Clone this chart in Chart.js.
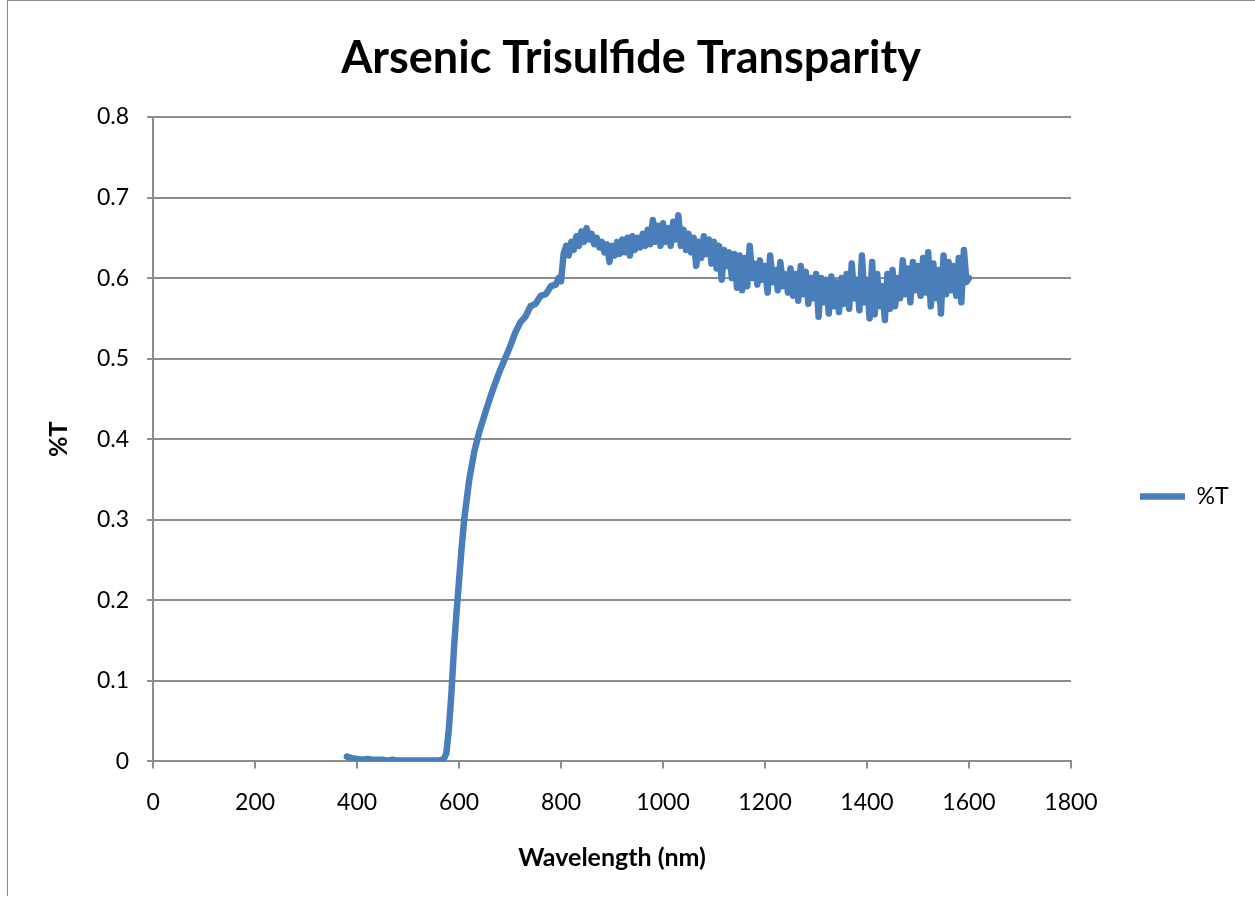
<!DOCTYPE html>
<html>
<head>
<meta charset="utf-8">
<title>Arsenic Trisulfide Transparity</title>
<script src="https://cdn.jsdelivr.net/npm/chart.js@4/dist/chart.umd.min.js"></script>
<style>
  html, body { margin: 0; padding: 0; background: #fff; }
  #wrap { position: relative; width: 1255px; height: 899px; }
  #frame {
    position: absolute; left: 7px; top: 0; width: 1260px; height: 895px;
    border-left: 1px solid #8a8a8a; border-top: 1px solid #8a8a8a;
    pointer-events: none;
  }
</style>
</head>
<body>
<div id="wrap">
  <canvas id="chart" width="1255" height="899"></canvas>
  <div id="frame"></div>
</div>
<script>
// 讀圖估計的數據（波長 nm / 穿透率）
const wavelengthNm = [
  380, 390, 400, 410, 420, 430, 440, 450, 460, 470,
  480, 490, 500, 510, 520, 530, 540, 550, 560, 570,
  575, 580, 585, 590, 595, 600, 605, 610, 620, 630,
  640, 650, 660, 670, 680, 690, 700, 710, 720, 730,
  740, 750, 760, 770, 780, 790, 795,
  800, 805, 810, 815, 820, 825, 830, 835, 840, 845,
  850, 855, 860, 865, 870, 875, 880, 885, 890, 895,
  900, 905, 910, 915, 920, 925, 930, 935, 940, 945,
  950, 955, 960, 965, 970, 975, 980, 985, 990, 995,
  1000, 1005, 1010, 1015, 1020, 1025, 1030, 1035, 1040, 1045,
  1050, 1055, 1060, 1065, 1070, 1075, 1080, 1085, 1090, 1095,
  1100, 1105, 1110, 1115, 1120, 1125, 1130, 1135, 1140, 1145,
  1150, 1155, 1160, 1165, 1170, 1175, 1180, 1185, 1190, 1195,
  1200, 1205, 1210, 1215, 1220, 1225, 1230, 1235, 1240, 1245,
  1250, 1255, 1260, 1265, 1270, 1275, 1280, 1285, 1290, 1295,
  1300, 1305, 1310, 1315, 1320, 1325, 1330, 1335, 1340, 1345,
  1350, 1355, 1360, 1365, 1370, 1375, 1380, 1385, 1390, 1395,
  1400, 1405, 1410, 1415, 1420, 1425, 1430, 1435, 1440, 1445,
  1450, 1455, 1460, 1465, 1470, 1475, 1480, 1485, 1490, 1495,
  1500, 1505, 1510, 1515, 1520, 1525, 1530, 1535, 1540, 1545,
  1550, 1555, 1560, 1565, 1570, 1575, 1580, 1585, 1590, 1595,
  1600
];

const transmittance = [
  0.006, 0.004, 0.003, 0.002, 0.003, 0.002, 0.002, 0.002, 0.001, 0.002,
  0.001, 0.001, 0.001, 0.001, 0.001, 0.001, 0.001, 0.001, 0.001, 0.003,
  0.010, 0.040, 0.085, 0.140, 0.185, 0.225, 0.265, 0.300, 0.350, 0.385,
  0.410, 0.430, 0.450, 0.468, 0.485, 0.500, 0.515, 0.532, 0.545, 0.552,
  0.565, 0.568, 0.578, 0.580, 0.590, 0.592, 0.600,
  0.596, 0.630, 0.640, 0.628, 0.645, 0.635, 0.652, 0.640, 0.658, 0.645,
  0.662, 0.648, 0.655, 0.642, 0.650, 0.638, 0.645, 0.632, 0.642, 0.620,
  0.640, 0.628, 0.645, 0.630, 0.648, 0.632, 0.650, 0.628, 0.652, 0.635,
  0.650, 0.638, 0.655, 0.640, 0.660, 0.642, 0.672, 0.645, 0.665, 0.640,
  0.668, 0.645, 0.662, 0.640, 0.670, 0.648, 0.678, 0.640, 0.660, 0.635,
  0.655, 0.632, 0.650, 0.615, 0.645, 0.625, 0.652, 0.630, 0.648, 0.618,
  0.645, 0.612, 0.640, 0.598, 0.635, 0.615, 0.632, 0.600, 0.630, 0.588,
  0.628, 0.585, 0.625, 0.590, 0.640, 0.600, 0.618, 0.592, 0.622, 0.598,
  0.615, 0.582, 0.628, 0.595, 0.610, 0.585, 0.620, 0.590, 0.605, 0.582,
  0.612, 0.578, 0.605, 0.572, 0.615, 0.580, 0.608, 0.568, 0.600, 0.575,
  0.605, 0.552, 0.600, 0.570, 0.598, 0.556, 0.602, 0.565, 0.595, 0.558,
  0.600, 0.568, 0.605, 0.562, 0.618, 0.575, 0.598, 0.560, 0.628, 0.570,
  0.598, 0.550, 0.620, 0.555, 0.605, 0.565, 0.590, 0.548, 0.605, 0.562,
  0.610, 0.565, 0.600, 0.575, 0.622, 0.580, 0.612, 0.570, 0.620, 0.585,
  0.615, 0.578, 0.625, 0.582, 0.632, 0.565, 0.618, 0.575, 0.610, 0.556,
  0.628, 0.580, 0.620, 0.585, 0.615, 0.578, 0.625, 0.570, 0.635, 0.595,
  0.600
];

const xTicks = [0, 200, 400, 600, 800, 1000, 1200, 1400, 1600, 1800];
const yTicks = [0, 0.1, 0.2, 0.3, 0.4, 0.5, 0.6, 0.7, 0.8];

const seriesName = '%T';
const lineColor = '#4a7ebb';
const gridColor = '#8c8c8c';
const fontFamily = 'Lato, "Open Sans", sans-serif';

const points = wavelengthNm.map((w, i) => ({ x: w, y: transmittance[i] }));

// 固定圖例寬度，讓繪圖區右緣落在正確位置，並把圖例往下移
const legendPlacePlugin = {
    id: 'legendPlace',
    beforeInit(chart) {
        const origFit = chart.legend.fit;
        chart.legend.fit = function () {
            origFit.bind(chart.legend)();
            this.width = 184;
        };
    },
    afterLayout(chart) {
        chart.legend.top += 60;
        chart.legend.bottom += 60;
    }
};

new Chart(document.getElementById('chart').getContext('2d'), {
    type: 'line',
    data: {
        datasets: [{
            label: seriesName,
            data: points,
            borderColor: lineColor,
            backgroundColor: lineColor,
            borderWidth: 6.5,
            borderCapStyle: 'round',
            borderJoinStyle: 'round',
            pointRadius: 0,
            pointStyle: 'line',
            tension: 0
        }]
    },
    options: {
        responsive: false,
        animation: false,
        layout: { padding: { left: 7, right: 0, top: 0, bottom: 26 } },
        plugins: {
            title: {
                display: true,
                text: 'Arsenic Trisulfide Transparity',
                color: '#000',
                font: { family: fontFamily, size: 45, weight: 'bold' },
                padding: { top: 31, bottom: 32 }
            },
            legend: {
                position: 'right',
                labels: {
                    usePointStyle: true,
                    pointStyle: 'line',
                    pointStyleWidth: 45,
                    padding: 69,
                    color: '#000',
                    font: { family: fontFamily, size: 23 }
                }
            },
            tooltip: { enabled: false }
        },
        scales: {
            x: {
                type: 'linear',
                min: 0,
                max: 1800,
                afterBuildTicks: axis => { axis.ticks = xTicks.map(v => ({ value: v })); },
                grid: { drawOnChartArea: false, drawTicks: true, tickLength: 7, color: gridColor, lineWidth: 2 },
                border: { color: gridColor, width: 2 },
                ticks: {
                    color: '#000',
                    padding: 20,
                    maxRotation: 0,
                    font: { family: fontFamily, size: 23 },
                    callback: v => String(v)
                },
                title: {
                    display: true,
                    text: 'Wavelength (nm)',
                    color: '#000',
                    font: { family: fontFamily, size: 25, weight: 'bold' },
                    padding: { top: 7, bottom: 0 }
                }
            },
            y: {
                min: 0,
                max: 0.8,
                afterBuildTicks: axis => { axis.ticks = yTicks.map(v => ({ value: v })); },
                grid: { color: gridColor, lineWidth: 2, drawTicks: true, tickLength: 6 },
                border: { color: gridColor, width: 2 },
                ticks: {
                    color: '#000',
                    padding: 18,
                    font: { family: fontFamily, size: 23 },
                    callback: v => String(Math.round(v * 10) / 10)
                },
                title: {
                    display: true,
                    text: '%T',
                    color: '#000',
                    font: { family: fontFamily, size: 25, weight: 'bold' },
                    padding: { top: 37, bottom: 5 }
                }
            }
        }
    },
    plugins: [legendPlacePlugin]
});
</script>
</body>
</html>
